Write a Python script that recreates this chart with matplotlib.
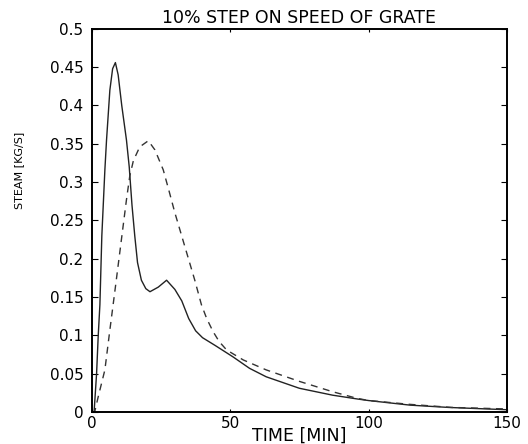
import matplotlib
matplotlib.use("Agg")
import matplotlib.pyplot as plt

# time [min] and steam flow [kg/s]
t_solid = [0, 0.8, 1.7, 2.3, 2.9, 3.6, 4.7, 5.3, 6.5, 7.5, 8.5, 9.5, 10.8, 12.5, 13.5,
           14.5, 15.5, 16.5, 17.9, 19.5, 21, 24, 27, 30, 32.5, 35, 37.5, 40, 44.5,
           51, 57, 63, 75, 87, 96, 100, 115, 129, 150]
y_solid = [0, 0, 0.05, 0.1, 0.14, 0.23, 0.316, 0.355, 0.42, 0.448, 0.456, 0.44, 0.40,
           0.355, 0.32, 0.27, 0.23, 0.195, 0.172, 0.161, 0.157, 0.163, 0.172, 0.16,
           0.145, 0.122, 0.106, 0.097, 0.087, 0.072, 0.057, 0.046, 0.031, 0.022,
           0.017, 0.015, 0.009, 0.006, 0.003]

t_dash = [0, 1, 2.3, 4.7, 6.5, 8.5, 10.5, 12.5, 13.7, 15.0, 17.3, 20.4, 22.8, 25.8,
          28, 30, 33.6, 37.2, 39.6, 41.5, 43.8, 46, 48.7, 54.7, 63, 75, 87, 95.7,
          100, 115, 130, 150]
y_dash = [0, 0, 0.02, 0.055, 0.107, 0.163, 0.22, 0.277, 0.308, 0.328, 0.346, 0.354,
          0.342, 0.316, 0.287, 0.26, 0.216, 0.172, 0.14, 0.122, 0.105, 0.092, 0.081,
          0.068, 0.055, 0.040, 0.0265, 0.018, 0.015, 0.010, 0.006, 0.004]

x_ticks = [0, 50, 100, 150]
y_ticks = [0, 0.05, 0.1, 0.15, 0.2, 0.25, 0.3, 0.35, 0.4, 0.45, 0.5]
y_labels = ["0", "0.05", "0.1", "0.15", "0.2", "0.25", "0.3", "0.35", "0.4", "0.45", "0.5"]

fig = plt.figure(figsize=(5.28, 4.44), dpi=100)
ax = fig.add_axes([0.174, 0.072, 0.786, 0.863])

ax.plot(t_solid, y_solid, color="#222222", lw=1.0)
ax.plot(t_dash, y_dash, color="#333333", lw=1.0, dashes=(5, 4))

ax.set_xlim(0, 150)
ax.set_ylim(0, 0.5)
ax.set_xticks(x_ticks)
ax.set_yticks(y_ticks)
ax.set_yticklabels(y_labels)
ax.tick_params(direction="in", top=True, right=True, labelsize=11, colors="black")
ax.tick_params(axis="y", length=4, pad=6)
ax.tick_params(axis="x", length=2.5, pad=3)
for s in ax.spines.values():
    s.set_linewidth(1.4)

ax.set_title("10% STEP ON SPEED OF GRATE", fontsize=12.5, pad=4)
ax.set_xlabel("TIME [MIN]", fontsize=12.5, va="baseline")
ax.xaxis.set_label_coords(0.5, -0.074)
ax.set_ylabel("STEAM [KG/S]", fontsize=8, va="center")
ax.yaxis.set_label_coords(-0.176, 0.63)

fig.savefig("out.png", dpi=100)
